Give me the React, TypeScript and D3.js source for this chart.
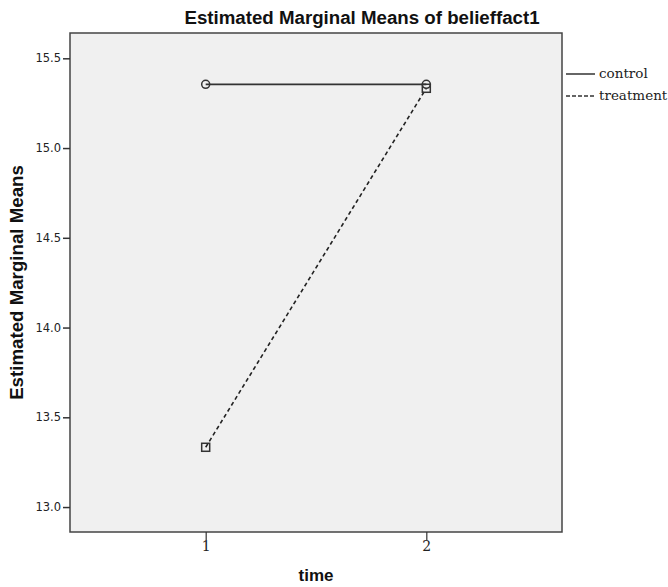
import { useRef, useEffect } from "react";
import * as d3 from "d3";

const times = [1, 2];
const controlMeans = [15.355, 15.355];
const treatmentMeans = [13.333, 15.333];
const yTicks = [13.0, 13.5, 14.0, 14.5, 15.0, 15.5];
const seriesNames = ["control", "treatment"];

const App = () => {
  const ref = useRef<SVGSVGElement>(null);

  useEffect(() => {
    if (!ref.current) return;
    const svg = d3.select(ref.current);
    svg.selectAll("*").remove();

    const left = 70;
    const right = 562;
    const top = 33;
    const bottom = 532;

    const x = d3.scaleLinear().domain([0.385, 2.615]).range([left, right]);
    const y = d3.scaleLinear().domain([12.861, 15.641]).range([bottom, top]);

    // title
    svg
      .append("text")
      .attr("x", 362)
      .attr("y", 24)
      .attr("text-anchor", "middle")
      .attr("font-family", "Liberation Sans, Arial, sans-serif")
      .attr("font-weight", "bold")
      .attr("font-size", 18.7)
      .attr("fill", "#111")
      .text("Estimated Marginal Means of belieffact1");

    // plot background
    svg
      .append("rect")
      .attr("x", left)
      .attr("y", top)
      .attr("width", right - left)
      .attr("height", bottom - top)
      .attr("fill", "#f0f0f0")
      .attr("stroke", "#444")
      .attr("stroke-width", 1.5);

    // y axis
    const gy = svg
      .append("g")
      .attr("transform", `translate(${left},0)`)
      .call(
        d3
          .axisLeft(y)
          .tickValues(yTicks)
          .tickFormat(d3.format(".1f"))
          .tickSize(7)
          .tickPadding(2)
      );
    gy.select(".domain").remove();
    gy.selectAll(".tick line").attr("stroke", "#333").attr("stroke-width", 1.5);
    gy.selectAll(".tick text")
      .attr("font-family", "DejaVu Sans, sans-serif")
      .attr("font-size", 11.5)
      .attr("fill", "#222");

    // x axis
    const gx = svg
      .append("g")
      .attr("transform", `translate(0,${bottom})`)
      .call(
        d3
          .axisBottom(x)
          .tickValues(times)
          .tickFormat(d3.format("d"))
          .tickSize(8)
          .tickPadding(1)
      );
    gx.select(".domain").remove();
    gx.selectAll(".tick line").attr("stroke", "#333").attr("stroke-width", 1.2);
    gx.selectAll(".tick text")
      .attr("font-family", "DejaVu Serif, serif")
      .attr("font-size", 14)
      .attr("fill", "#222");

    // axis titles
    svg
      .append("text")
      .attr("transform", `translate(23,${(top + bottom) / 2}) rotate(-90)`)
      .attr("text-anchor", "middle")
      .attr("font-family", "Liberation Sans, Arial, sans-serif")
      .attr("font-weight", "bold")
      .attr("font-size", 18.7)
      .attr("fill", "#111")
      .text("Estimated Marginal Means");

    svg
      .append("text")
      .attr("x", (left + right) / 2)
      .attr("y", 581)
      .attr("text-anchor", "middle")
      .attr("font-family", "Liberation Sans, Arial, sans-serif")
      .attr("font-weight", "bold")
      .attr("font-size", 17)
      .attr("fill", "#111")
      .text("time");

    const line = d3
      .line<number>()
      .x((_, i) => x(times[i]))
      .y((d) => y(d));

    // treatment (dashed)
    svg
      .append("path")
      .datum(treatmentMeans)
      .attr("d", line)
      .attr("fill", "none")
      .attr("stroke", "#222")
      .attr("stroke-width", 1.6)
      .attr("stroke-dasharray", "4,3");

    // control (solid)
    svg
      .append("path")
      .datum(controlMeans)
      .attr("d", line)
      .attr("fill", "none")
      .attr("stroke", "#333")
      .attr("stroke-width", 1.6);

    svg
      .append("g")
      .selectAll("circle")
      .data(controlMeans)
      .join("circle")
      .attr("cx", (_, i) => x(times[i]))
      .attr("cy", (d) => y(d))
      .attr("r", 4)
      .attr("fill", "none")
      .attr("stroke", "#333")
      .attr("stroke-width", 1.5);

    svg
      .append("g")
      .selectAll("rect")
      .data(treatmentMeans)
      .join("rect")
      .attr("x", (_, i) => x(times[i]) - 4)
      .attr("y", (d) => y(d) - 4)
      .attr("width", 8)
      .attr("height", 8)
      .attr("fill", "none")
      .attr("stroke", "#333")
      .attr("stroke-width", 1.5);

    // legend
    const legend = svg
      .append("g")
      .selectAll("g")
      .data(seriesNames)
      .join("g")
      .attr("transform", (_, i) => `translate(566,${74 + i * 22})`);
    legend
      .append("line")
      .attr("x1", 0)
      .attr("x2", 29)
      .attr("stroke", "#333")
      .attr("stroke-width", 1.5)
      .attr("stroke-dasharray", (_, i) => (i === 1 ? "4,2" : null));
    legend
      .append("text")
      .attr("x", 33)
      .attr("y", 4)
      .attr("font-family", "DejaVu Serif, serif")
      .attr("font-size", 13.5)
      .attr("fill", "#222")
      .text((d) => d);
  }, []);

  return (
    <svg
      ref={ref}
      width={668}
      height={587}
      style={{ position: "absolute", left: 0, top: 0, background: "#fff" }}
    />
  );
};

export default App;
